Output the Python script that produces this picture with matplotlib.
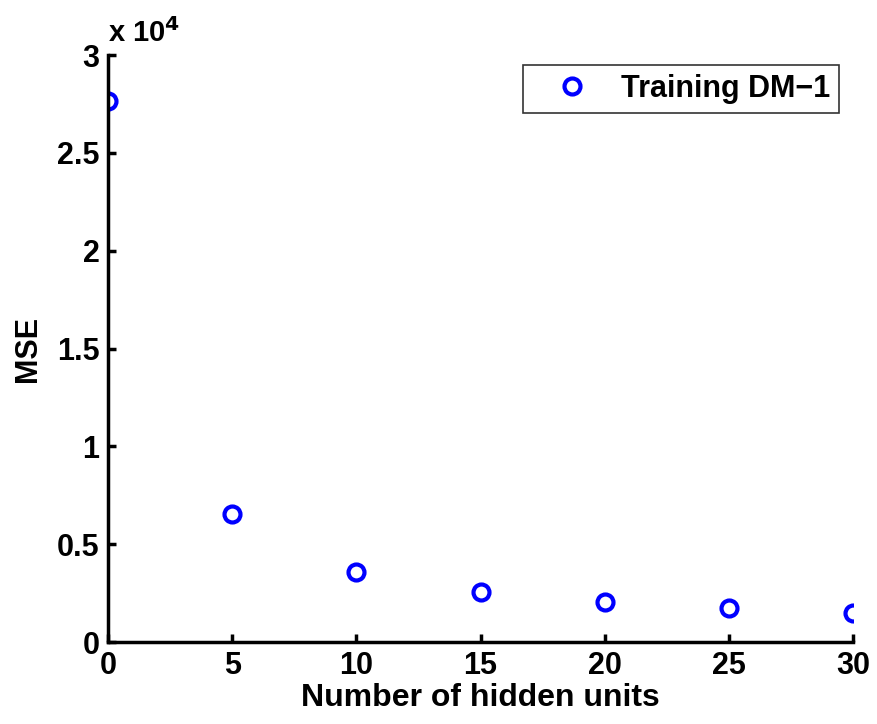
import numpy as np
import matplotlib
matplotlib.use('Agg')
import matplotlib.pyplot as plt
from matplotlib.ticker import FuncFormatter

plt.rcParams['font.family'] = ['Liberation Sans', 'DejaVu Sans']
plt.rcParams['font.weight'] = 'bold'

# Data
hidden_units = [0, 5, 10, 15, 20, 25, 30]
mse = [27640, 6540, 3580, 2550, 2040, 1740, 1480]

fig = plt.figure(figsize=(8.77, 7.24), dpi=100)
ax = fig.add_axes([0.123, 0.113, 0.850, 0.811])

ax.plot(hidden_units, mse, 'o', color='#0000ff', markerfacecolor='none',
        markersize=11.5, markeredgewidth=3, label='Training DM\u22121')

ax.set_xlim(0, 30)
ax.set_ylim(0, 30000)
ax.set_xticks([0, 5, 10, 15, 20, 25, 30])
ax.set_yticks([0, 5000, 10000, 15000, 20000, 25000, 30000])
ax.yaxis.set_major_formatter(FuncFormatter(lambda v, p: '%g' % (v / 1e4)))

# MATLAB-like look: only left/bottom axis lines, ticks inward
ax.spines['top'].set_visible(False)
ax.spines['right'].set_visible(False)
ax.spines['left'].set_linewidth(2.5)
ax.spines['bottom'].set_linewidth(2.5)
ax.tick_params(direction='in', length=6, width=2.5, labelsize=22, pad=6)

ax.set_xlabel('Number of hidden units', fontsize=23, fontweight='bold', labelpad=2)
ax.set_ylabel('MSE', fontsize=22, fontweight='bold', labelpad=10)

ax.text(0.0, 1.012, 'x 10$^{\\mathbf{4}}$', transform=ax.transAxes,
        fontsize=21, fontweight='bold', ha='left', va='bottom')

leg = ax.legend(loc='upper right', fontsize=22, frameon=True, fancybox=False,
                borderpad=0.3, handlelength=2.6, handletextpad=0.3,
                borderaxespad=0, bbox_to_anchor=(0.981, 0.983))
leg.get_frame().set_edgecolor('black')
leg.get_frame().set_linewidth(1.2)

plt.savefig('out.png', dpi=100)
